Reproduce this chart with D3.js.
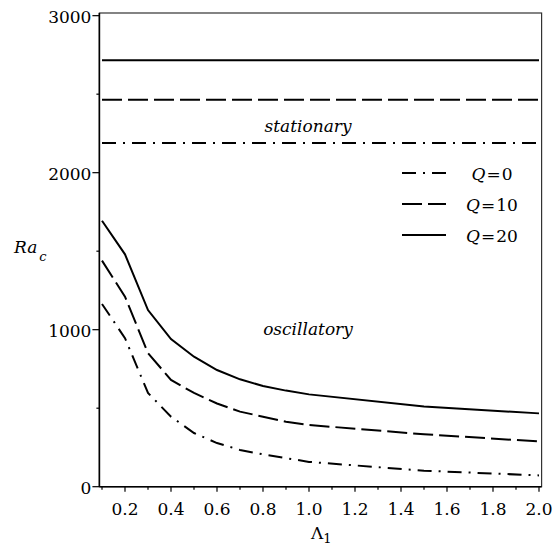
<!DOCTYPE html>
<html><head><meta charset="utf-8">
<script src="https://cdn.jsdelivr.net/npm/d3@7"></script>
<style>body{margin:0;background:#fff}svg{display:block}</style>
</head><body><svg id="c" width="558" height="545"></svg>
<script>
const lambda = [0.1,0.2,0.3,0.4,0.5,0.6,0.7,0.8,0.9,1.0,1.5,2.0];
const oscQ0  = [1164,946,597,446,342,278,234,206,182,158,102,72];
const oscQ10 = [1440,1210,851,680,597,530,478,446,414,393,334,288];
const oscQ20 = [1694,1480,1125,940,828,743,684,641,612,588,511,467];
const statQ0 = 2189, statQ10 = 2465, statQ20 = 2716;
const xTicks = [0.2,0.4,0.6,0.8,1.0,1.2,1.4,1.6,1.8,2.0];
const yTicks = [0,1000,2000,3000];
const legendLabels = ["0","10","20"];

const FONT = "DejaVu Serif";
const FS = 17;
const svg = d3.select("#c");
const x = d3.scaleLinear().domain([0.0887,2.0113]).range([99.4,541.6]);
const y = d3.scaleLinear().domain([0,3017]).range([486.7,13]);
const styles = [
  {dash:"14,7,2,7", osc:oscQ0, stat:statQ0},
  {dash:"20,6", osc:oscQ10, stat:statQ10},
  {dash:null, osc:oscQ20, stat:statQ20}
];
const line = d3.line().x(d=>x(d[0])).y(d=>y(d[1]));
const [x0,x1] = x.range();
function txt(sel){ return sel.append("text").style("font-family",FONT).attr("fill","#000"); }

svg.append("rect").attr("x",x0).attr("y",y(3017)).attr("width",x1-x0).attr("height",y(0)-y(3017))
  .attr("fill","none").attr("stroke","#333").attr("stroke-width",1.2);
svg.append("line").attr("x1",x0).attr("x2",x0).attr("y1",y(3017)).attr("y2",y(0)).attr("stroke","#000").attr("stroke-width",1.6);
svg.append("line").attr("x1",x0).attr("x2",x1).attr("y1",y(0)).attr("y2",y(0)).attr("stroke","#000").attr("stroke-width",1.6);

yTicks.forEach(v=>{
  svg.append("line").attr("x1",x0-7).attr("x2",x0).attr("y1",y(v)).attr("y2",y(v)).attr("stroke","#000").attr("stroke-width",1.2);
  txt(svg).attr("x",x0-8).attr("y",y(v)+7).attr("text-anchor","end").attr("font-size",FS).text(v);
});
d3.range(500,3000,1000).forEach(v=>{
  svg.append("line").attr("x1",x0-3).attr("x2",x0).attr("y1",y(v)).attr("y2",y(v)).attr("stroke","#000").attr("stroke-width",1.2);
});
xTicks.forEach(v=>{
  svg.append("line").attr("x1",x(v)).attr("x2",x(v)).attr("y1",y(0)).attr("y2",y(0)+5).attr("stroke","#000").attr("stroke-width",1.2);
  txt(svg).attr("x",x(v)).attr("y",515).attr("text-anchor","middle").attr("font-size",FS).text(v.toFixed(1));
});
d3.range(0.1,2.0,0.2).forEach(v=>{
  svg.append("line").attr("x1",x(v)).attr("x2",x(v)).attr("y1",y(0)).attr("y2",y(0)+3).attr("stroke","#000").attr("stroke-width",1.2);
});

styles.forEach(s=>{
  svg.append("path").datum(lambda.map((l,i)=>[l,s.osc[i]])).attr("d",line)
    .attr("fill","none").attr("stroke","#000").attr("stroke-width",2).attr("stroke-dasharray",s.dash);
  svg.append("path").datum([[lambda[0],s.stat],[lambda[lambda.length-1],s.stat]]).attr("d",line)
    .attr("fill","none").attr("stroke","#000").attr("stroke-width",2).attr("stroke-dasharray",s.dash);
});

const ly = [173,204,235];
styles.forEach((s,i)=>{
  svg.append("line").attr("x1",402).attr("x2",446).attr("y1",ly[i]).attr("y2",ly[i])
    .attr("stroke","#000").attr("stroke-width",2).attr("stroke-dasharray",s.dash);
  const t = txt(svg).attr("x",492).attr("y",ly[i]+7).attr("text-anchor","middle").attr("font-size",FS);
  t.append("tspan").attr("font-style","italic").text("Q");
  t.append("tspan").attr("dx",1).text("=");
  t.append("tspan").attr("dx",1).text(legendLabels[i]);
});

txt(svg).attr("x",308).attr("y",132).attr("text-anchor","middle").attr("font-size",FS).attr("font-style","italic").text("stationary");
txt(svg).attr("x",308).attr("y",335).attr("text-anchor","middle").attr("font-size",FS).attr("font-style","italic").text("oscillatory");
const ra = txt(svg).attr("x",14).attr("y",253).attr("font-size",FS).attr("font-style","italic");
ra.append("tspan").text("Ra");
ra.append("tspan").attr("dx",2).attr("dy",8).attr("font-size",13).text("c");
const lb = txt(svg).attr("x",311).attr("y",539).attr("font-size",FS);
lb.append("tspan").text("Λ");
lb.append("tspan").attr("dy",4).attr("font-size",13).text("1");
</script></body></html>
